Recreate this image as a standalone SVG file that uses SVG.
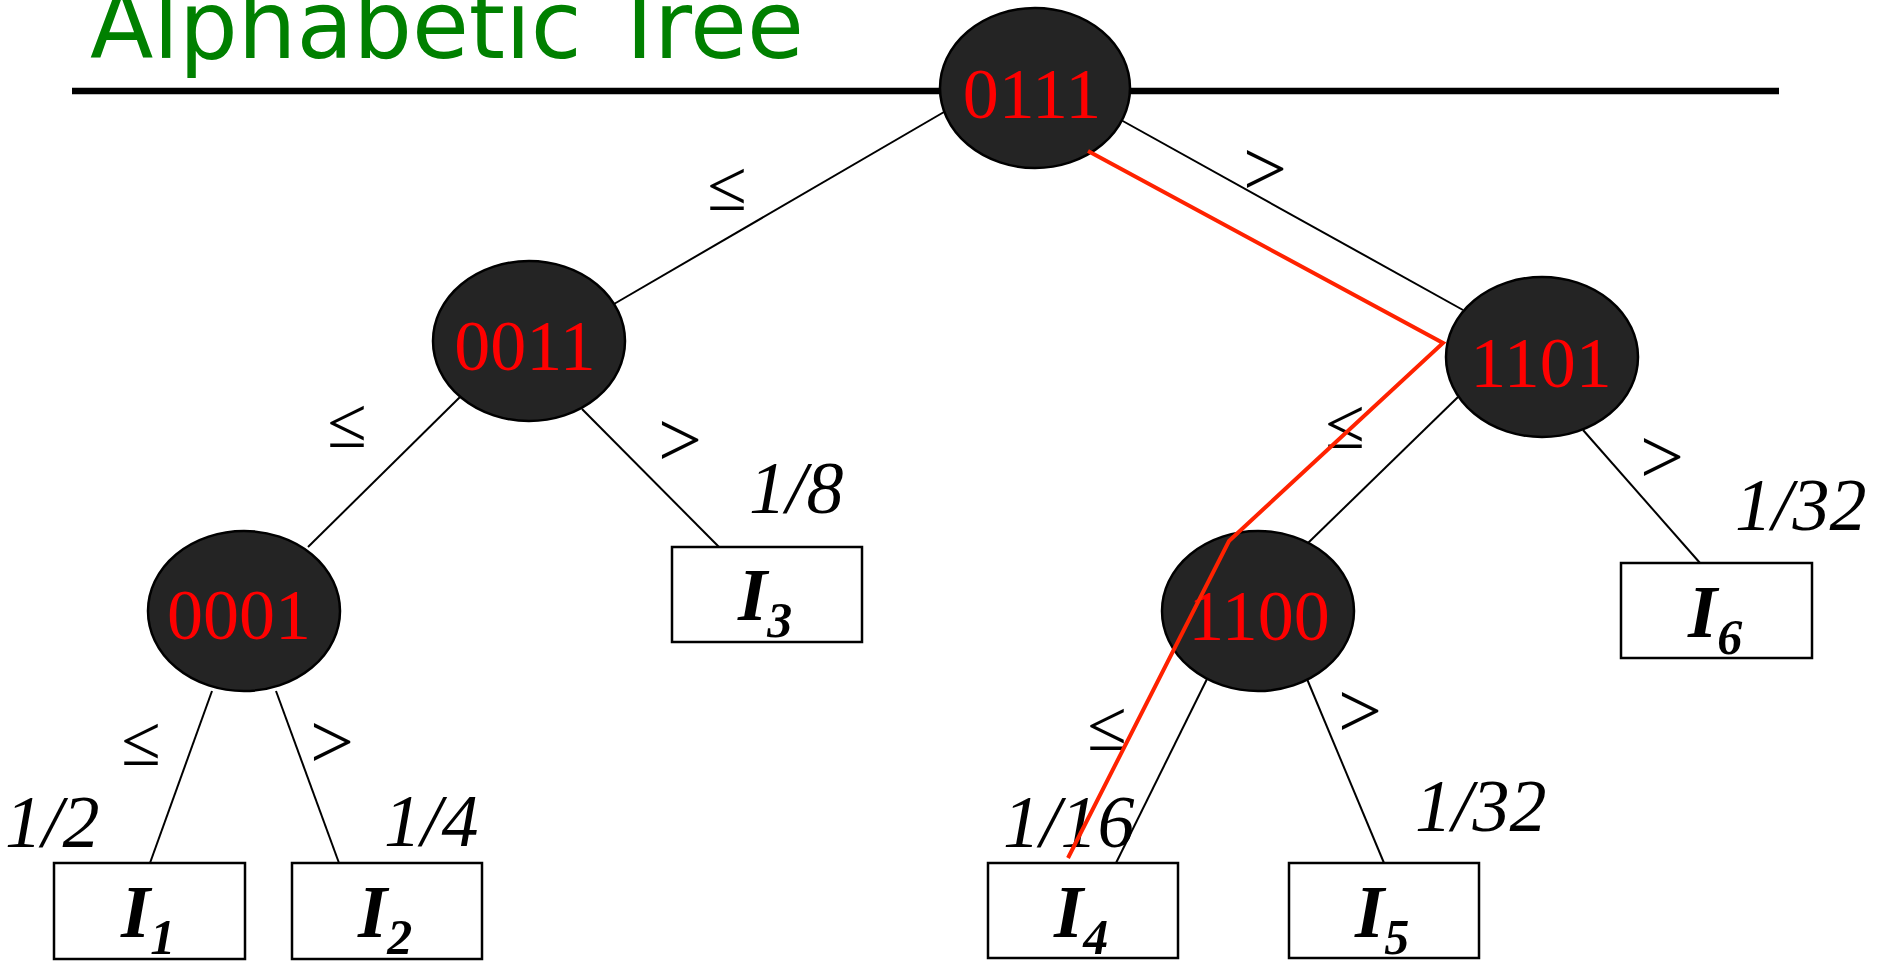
<svg xmlns="http://www.w3.org/2000/svg" width="1885" height="961" viewBox="0 0 1885 961">
<style>
.title{font-family:"DejaVu Sans",sans-serif;font-size:95px;fill:#008000}
.node ellipse{fill:#242424;stroke:#000;stroke-width:2.5}
.node text{font-family:"Liberation Serif",serif;font-size:72px;fill:#ff0000;text-anchor:middle}
.leaf rect{fill:#fff;stroke:#000;stroke-width:2.5}
.leaf text{font-family:"Liberation Serif",serif;font-weight:bold;font-style:italic;font-size:75px;fill:#000}
.edge{stroke:#000;stroke-width:2;fill:none}
.op{font-family:"Liberation Serif",serif;font-size:72px;fill:#000;text-anchor:middle}
.gt{font-size:78px}
.frac{font-family:"Liberation Serif",serif;font-style:italic;font-size:74px;fill:#000}
</style>
<rect width="1885" height="961" fill="#fff"/>
<text class="title" x="90" y="58" textLength="714" lengthAdjust="spacingAndGlyphs">Alphabetic Tree</text>
<line x1="72" y1="91" x2="1779" y2="91" stroke="#000" stroke-width="6.5"/>
<g id="connectors">
<line class="edge" x1="944" y1="112" x2="614" y2="304"/>
<line class="edge" x1="1121" y1="120" x2="1463" y2="310"/>
<line class="edge" x1="460" y1="397" x2="308" y2="547"/>
<line class="edge" x1="582" y1="409" x2="719" y2="547"/>
<line class="edge" x1="212" y1="691" x2="150" y2="863"/>
<line class="edge" x1="276" y1="691" x2="339" y2="863"/>
<line class="edge" x1="1458" y1="397" x2="1308" y2="543"/>
<line class="edge" x1="1583" y1="430" x2="1700" y2="563"/>
<line class="edge" x1="1207" y1="679" x2="1116" y2="863"/>
<line class="edge" x1="1307" y1="679" x2="1384" y2="863"/>
</g>
<g id="edge-labels">
<text class="op" x="727" y="210">≤</text>
<text class="op gt" x="1265" y="195">&gt;</text>
<text class="op" x="347" y="447">≤</text>
<text class="op gt" x="680" y="466">&gt;</text>
<text class="op" x="1345" y="448">≤</text>
<text class="op gt" x="1662" y="483">&gt;</text>
<text class="op" x="141" y="765">≤</text>
<text class="op gt" x="332" y="768">&gt;</text>
<text class="op" x="1107" y="750">≤</text>
<text class="op gt" x="1360" y="737">&gt;</text>
</g>
<g id="weights">
<text class="frac" x="5" y="847">1/2</text>
<text class="frac" x="384" y="846">1/4</text>
<text class="frac" x="749" y="513">1/8</text>
<text class="frac" x="1003" y="847">1/16</text>
<text class="frac" x="1415" y="831">1/32</text>
<text class="frac" x="1735" y="530">1/32</text>
</g>
<g id="n0111" class="node"><ellipse cx="1035" cy="88" rx="95" ry="80"/><text x="1032" y="118">0111</text></g>
<g id="n0011" class="node"><ellipse cx="529" cy="341" rx="96" ry="80"/><text x="525" y="370">0011</text></g>
<g id="n0001" class="node"><ellipse cx="244" cy="611" rx="96" ry="80"/><text x="239" y="639">0001</text></g>
<g id="n1101" class="node"><ellipse cx="1542" cy="357" rx="96" ry="80"/><text x="1541" y="387">1101</text></g>
<g id="n1100" class="node"><ellipse cx="1258" cy="611" rx="96" ry="80"/><text x="1259" y="640">1100</text></g>
<g id="I1" class="leaf"><rect x="54" y="863" width="191" height="96"/><text x="121" y="937">I<tspan font-size="50" dy="17">1</tspan></text></g>
<g id="I2" class="leaf"><rect x="292" y="863" width="190" height="96"/><text x="358" y="937">I<tspan font-size="50" dy="17">2</tspan></text></g>
<g id="I3" class="leaf"><rect x="672" y="547" width="190" height="95"/><text x="738" y="620">I<tspan font-size="50" dy="17">3</tspan></text></g>
<g id="I4" class="leaf"><rect x="988" y="863" width="190" height="95"/><text x="1054" y="937">I<tspan font-size="50" dy="17">4</tspan></text></g>
<g id="I5" class="leaf"><rect x="1289" y="863" width="190" height="95"/><text x="1355" y="937">I<tspan font-size="50" dy="17">5</tspan></text></g>
<g id="I6" class="leaf"><rect x="1621" y="563" width="191" height="95"/><text x="1688" y="637">I<tspan font-size="50" dy="17">6</tspan></text></g>
<g id="search-path">
<polyline points="1088,151 1443,343 1229,541 1068,858" fill="none" stroke="#ff2200" stroke-width="4"/>
</g>
</svg>
